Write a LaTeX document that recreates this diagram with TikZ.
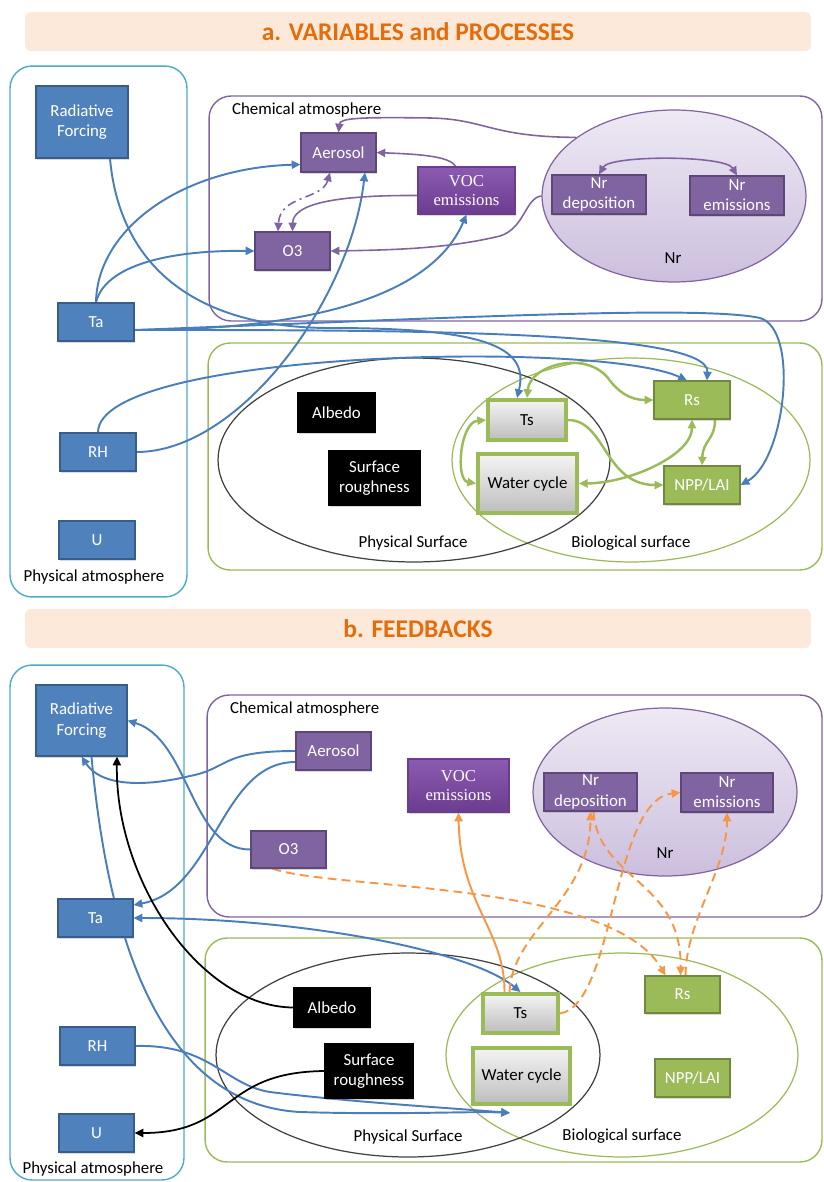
\documentclass[tikz,border=0pt]{standalone}
\usepackage{fontspec}
\setmainfont{Carlito}
\newfontfamily\vocfont{Liberation Serif}
\usetikzlibrary{arrows.meta,shapes.geometric,shadows}

% colours
\definecolor{titlefill}{HTML}{FDE9D9}
\definecolor{titletext}{HTML}{E46C0A}
\definecolor{atmoline}{HTML}{4BACC6}
\definecolor{atmofill}{HTML}{4F81BD}
\definecolor{atmoedge}{HTML}{385D8A}
\definecolor{chemline}{HTML}{8064A2}
\definecolor{chemfill}{HTML}{8064A2}
\definecolor{chemedge}{HTML}{5C4776}
\definecolor{voctop}{HTML}{8A5BB0}
\definecolor{vocbot}{HTML}{6B3C8F}
\definecolor{nrtop}{HTML}{EEE9F4}
\definecolor{nrbot}{HTML}{CCBFDE}
\definecolor{bioline}{HTML}{9BBB59}
\definecolor{biofill}{HTML}{9BBB59}
\definecolor{bioedge}{HTML}{71893F}
\definecolor{soiltop}{HTML}{F4F4F4}
\definecolor{soilbot}{HTML}{BDBDBD}
\definecolor{surfline}{HTML}{404040}
\definecolor{linkblue}{HTML}{4A7EBB}
\definecolor{linkorange}{HTML}{F79646}

\pgfdeclarelayer{back}
\pgfdeclarelayer{links}
\pgfsetlayers{back,links,main}

\newcommand{\boxfont}{\fontsize{9.6}{11.5}\selectfont}

\tikzset{
  box/.style={draw, rectangle, inner sep=1pt, align=center, text=white, font=\boxfont, line width=0.6pt,
    drop shadow={opacity=0.3, shadow xshift=0.7pt, shadow yshift=-0.9pt}},
  atmobox/.style={box, fill=atmofill, draw=atmoedge},
  chembox/.style={box, fill=chemfill, draw=chemedge},
  vocbox/.style={box, top color=voctop, bottom color=vocbot, draw=vocbot, font=\vocfont\fontsize{9.5}{10.5}\selectfont},
  surfbox/.style={box, fill=black, draw=black},
  biobox/.style={box, fill=biofill, draw=bioedge},
  soilbox/.style={box, top color=soiltop, bottom color=soilbot, draw=bioline, line width=2.2pt, text=black},
  frame/.style={draw, rectangle, rounded corners=0.44cm, line width=0.8pt, inner sep=0pt},
  title/.style={rectangle, rounded corners=0.12cm, fill=titlefill, text=titletext,
    font=\fontsize{14.5}{16}\selectfont\bfseries, minimum width=15.72cm, minimum height=0.78cm},
  zone/.style={ellipse, draw, inner sep=0pt, line width=0.7pt},
  lbl/.style={font=\boxfont, text=black, inner sep=1pt},
  bluearr/.style={draw=linkblue, line width=1.1pt},
  chemarr/.style={draw=chemline, line width=0.9pt},
  bioarr/.style={draw=bioline, line width=1.4pt},
  surfarr/.style={draw=black, line width=1pt},
  orangearr/.style={draw=linkorange, line width=1.1pt},
  orangedash/.style={orangearr, dash pattern=on 5pt off 3pt}
}

\begin{document}
\begin{tikzpicture}[x=0.02cm, y=-0.02cm, >={Triangle[length=5pt,width=4.6pt]}]
\useasboundingbox (0,0) rectangle (823,1182);

% ---------------- a. variables and processes ----------------
\begin{pgfonlayer}{back}
    \node[title] (titleA) at (418,31.5) {a. VARIABLES and PROCESSES};
    \node[frame, draw=atmoline, minimum width=3.54cm, minimum height=10.62cm] (atmoA) at (98.5,331.5) {};
    \node[frame, draw=chemline, minimum width=12.26cm, minimum height=4.5cm] (chemA) at (515.5,208.5) {};
    \node[frame, draw=bioline, minimum width=12.28cm, minimum height=4.54cm] (surfA) at (515,456.5) {};
    \node[zone, draw=chemline, top color=nrtop, bottom color=nrbot, minimum width=5.28cm, minimum height=3.44cm] (nrA) at (674,196) {};
    \node[zone, draw=bioline, minimum width=7.16cm, minimum height=4.08cm] (bioA) at (631,460) {};
    \node[zone, draw=surfline, minimum width=7.84cm, minimum height=4.08cm] (physA) at (414,460) {};
\end{pgfonlayer}

% Labels
\node[lbl, anchor=west] (chemAlbl) at (230,110) {Chemical atmosphere};
\node[lbl] (atmoAlbl) at (94,577) {Physical atmosphere};
\node[lbl] (nrAlbl) at (673,258) {Nr};
\node[lbl] (physAlbl) at (413,543) {Physical Surface};
\node[lbl] (bioAlbl) at (631,543) {Biological surface};

% Physical atmosphere
\node[atmobox, minimum width=1.84cm, minimum height=1.44cm] (rfA) at (82,122) {Radiative\\Forcing};
\node[atmobox, minimum width=1.52cm, minimum height=0.76cm] (taA) at (96,322) {Ta};
\node[atmobox, minimum width=1.52cm, minimum height=0.76cm] (rhA) at (98,452) {RH};
\node[atmobox, minimum width=1.52cm, minimum height=0.76cm] (uA) at (97,540) {U};

% Chemical atmosphere
\node[chembox, minimum width=1.5cm, minimum height=0.78cm] (aeroA) at (338.5,152.5) {Aerosol};
\node[chembox, minimum width=1.5cm, minimum height=0.76cm] (o3A) at (292.5,251) {O3};
\node[vocbox, minimum width=1.94cm, minimum height=0.94cm] (vocA) at (466.5,190.5) {VOC\\emissions};
\node[chembox, minimum width=1.88cm, minimum height=0.78cm] (ndepA) at (599,194.5) {Nr\\deposition};
\node[chembox, minimum width=1.88cm, minimum height=0.78cm] (nemA) at (737,195.5) {Nr\\emissions};

% Surface
\node[surfbox, minimum width=1.54cm, minimum height=0.78cm] (albA) at (336.5,412.5) {Albedo};
\node[surfbox, minimum width=1.82cm, minimum height=1.08cm] (roughA) at (374.5,478) {Surface\\roughness};
\node[soilbox, minimum width=1.56cm, minimum height=0.8cm] (tsA) at (527,420) {Ts};
\node[soilbox, minimum width=1.98cm, minimum height=1.18cm] (waterA) at (527.5,483.5) {Water cycle};
\node[biobox, minimum width=1.52cm, minimum height=0.76cm] (rsA) at (692,400) {Rs};
\node[biobox, minimum width=1.52cm, minimum height=0.76cm] (nppA) at (702,485) {NPP/LAI};

% Arrows
\begin{pgfonlayer}{links}
    \draw[bluearr, ->] (taA.north) .. controls (97,230) and (180,168) .. ([yshift=-0.24cm]aeroA.west);
    \draw[bluearr, ->] (taA.north) .. controls (105,265) and (170,250) .. (o3A.west);
    \draw[bluearr, ->] ([yshift=-0.16cm]taA.east) .. controls (300,330) and (430,300) .. (vocA.south);
    \draw[bluearr, ->] ([xshift=0.56cm]rfA.south) .. controls (120,270) and (200,328) .. (330,328)
        .. controls (480,328) and (530,345) .. ([xshift=-0.2cm]tsA.north);
    \draw[bluearr, ->] ([yshift=-0.16cm]taA.east) .. controls (400,330) and (710,330) .. ([xshift=0.3cm]rsA.north);
    \draw[bluearr, ->] ([yshift=-0.16cm]taA.east) .. controls (450,318) and (700,305) .. (760,318)
        .. controls (800,330) and (785,460) .. (nppA.east);
    \draw[bluearr, ->] (rhA.north) .. controls (98,350) and (600,340) .. ([xshift=-0.1cm]rsA.north);
    \draw[bluearr, ->] (rhA.east) .. controls (240,452) and (350,300) .. ([xshift=0.53cm]aeroA.south);

    \draw[chemarr, ->] (nrA.149) .. controls (490,137) and (485,119) .. (430,118)
        .. controls (360,117) and (340,118) .. (aeroA.north);
    \draw[chemarr, ->] ([xshift=-0.22cm]vocA.north) .. controls (450,155) and (410,154) .. (aeroA.east);
    \draw[chemarr, ->] ([yshift=-0.1cm]vocA.west) .. controls (330,195) and (293,205) .. (o3A.north);
    \draw[chemarr, ->] (nrA.west) .. controls (525,198) and (525,228) .. (500,236)
        .. controls (450,248) and (400,250) .. (o3A.east);
    \draw[chemarr, <->, dash pattern=on 5pt off 2.5pt on 1.2pt off 2.5pt] ([xshift=-0.17cm]aeroA.south)
        .. controls (322,200) and (280,195) .. ([xshift=-0.29cm]o3A.north);
    \draw[chemarr, <->] (ndepA.north) .. controls (610,155) and (725,155) .. (nemA.north);

    \draw[bioarr, <->] (tsA.north) .. controls (530,365) and (585,350) .. (608,378)
        .. controls (618,392) and (630,400) .. (rsA.west);
    \draw[bioarr, <->] (tsA.west) .. controls (460,422) and (455,480) .. (waterA.west);
    \draw[bioarr, ->] (tsA.east) .. controls (606,420) and (604,485) .. (nppA.west);
    \draw[bioarr, <->] (waterA.east) .. controls (630,483) and (692,455) .. (rsA.south);
    \draw[bioarr, ->] ([xshift=0.46cm]rsA.south) .. controls (715,440) and (703,440) .. (nppA.north);
\end{pgfonlayer}

% ---------------- b. feedbacks ----------------
\begin{pgfonlayer}{back}
    \node[title] (titleB) at (418,628.5) {b. FEEDBACKS};
    \node[frame, draw=atmoline, minimum width=3.48cm, minimum height=10.3cm] (atmoB) at (97,922.5) {};
    \node[frame, draw=chemline, minimum width=12.3cm, minimum height=4.44cm] (chemB) at (514.5,806) {};
    \node[frame, draw=bioline, minimum width=12.34cm, minimum height=4.48cm] (surfB) at (513.5,1050) {};
    \node[zone, draw=chemline, top color=nrtop, bottom color=nrbot, minimum width=5.28cm, minimum height=3.36cm] (nrB) at (665,792) {};
    \node[zone, draw=bioline, minimum width=7.04cm, minimum height=4.08cm] (bioB) at (622,1055) {};
    \node[zone, draw=surfline, minimum width=7.68cm, minimum height=4.08cm] (physB) at (408,1055) {};
\end{pgfonlayer}

% Labels
\node[lbl, anchor=west] (chemBlbl) at (228,709) {Chemical atmosphere};
\node[lbl] (atmoBlbl) at (93,1169) {Physical atmosphere};
\node[lbl] (nrBlbl) at (665,853) {Nr};
\node[lbl] (physBlbl) at (408,1137) {Physical Surface};
\node[lbl] (bioBlbl) at (622,1136) {Biological surface};

% Physical atmosphere
\node[atmobox, minimum width=1.82cm, minimum height=1.42cm] (rfB) at (81.5,720.5) {Radiative\\Forcing};
\node[atmobox, minimum width=1.5cm, minimum height=0.76cm] (taB) at (95.5,918) {Ta};
\node[atmobox, minimum width=1.5cm, minimum height=0.76cm] (rhB) at (97.5,1046) {RH};
\node[atmobox, minimum width=1.5cm, minimum height=0.76cm] (uB) at (96.5,1133) {U};

% Chemical atmosphere
\node[chembox, minimum width=1.5cm, minimum height=0.76cm] (aeroB) at (333.5,751) {Aerosol};
\node[chembox, minimum width=1.5cm, minimum height=0.74cm] (o3B) at (288.5,849.5) {O3};
\node[vocbox, minimum width=2.02cm, minimum height=1.06cm] (vocB) at (458.5,785.5) {VOC\\emissions};
\node[chembox, minimum width=1.86cm, minimum height=0.76cm] (ndepB) at (590.5,792) {Nr\\deposition};
\node[chembox, minimum width=1.84cm, minimum height=0.78cm] (nemB) at (727,792.5) {Nr\\emissions};

% Surface
\node[surfbox, minimum width=1.52cm, minimum height=0.78cm] (albB) at (332,1007.5) {Albedo};
\node[surfbox, minimum width=1.76cm, minimum height=1.08cm] (roughB) at (369,1071) {Surface\\roughness};
\node[soilbox, minimum width=1.5cm, minimum height=0.78cm] (tsB) at (520.5,1013.5) {Ts};
\node[soilbox, minimum width=1.94cm, minimum height=1.12cm] (waterB) at (521.5,1076) {Water cycle};
\node[biobox, minimum width=1.5cm, minimum height=0.74cm] (rsB) at (682.5,994.5) {Rs};
\node[biobox, minimum width=1.5cm, minimum height=0.76cm] (nppB) at (692.5,1078) {NPP/LAI};

% Arrows
\begin{pgfonlayer}{links}
    \draw[bluearr, ->] (aeroB.west) .. controls (220,751) and (230,768) .. (190,776)
        .. controls (140,788) and (100,785) .. (rfB.south);
    \draw[bluearr, ->] ([yshift=-0.22cm]aeroB.west) .. controls (220,762) and (215,890) .. ([yshift=0.26cm]taB.east);
    \draw[bluearr, ->] (o3B.west) .. controls (190,850) and (190,740) .. (rfB.east);
    \draw[bluearr, <->] (taB.east) .. controls (300,918) and (470,950) .. (tsB.north);
    \draw[bluearr, ->] ([xshift=0.2cm]rfB.south) .. controls (110,960) and (170,1105) .. (300,1112)
        .. controls (400,1115) and (470,1111) .. ([xshift=-0.23cm,yshift=-0.14cm]waterB.south);
    \draw[bluearr, ->] (rhB.east) .. controls (210,1044) and (225,1085) .. (270,1092)
        .. controls (350,1102) and (450,1108) .. ([xshift=-0.23cm,yshift=-0.14cm]waterB.south);

    \draw[surfarr, ->] (albB.west) .. controls (200,1007) and (115,880) .. ([xshift=0.71cm]rfB.south);
    \draw[surfarr, ->] (roughB.west) .. controls (220,1072) and (235,1133) .. (uB.east);

    \draw[orangearr, ->] ([xshift=-0.32cm]tsB.north) .. controls (505,930) and (460,905) .. (vocB.south);
    \draw[orangedash, ->] ([xshift=0.44cm]o3B.south west) .. controls (330,890) and (610,880) .. ([xshift=-0.34cm]rsB.north);
    \draw[orangedash, ->] ([xshift=-0.22cm]tsB.north) .. controls (512,930) and (590,900) .. (ndepB.south);
    \draw[orangedash, ->] ([xshift=0.06cm]ndepB.south) .. controls (598,880) and (682,880) .. ([xshift=-0.04cm]rsB.north);
    \draw[orangedash, ->] ([xshift=0.06cm]rsB.north) .. controls (686,920) and (727,870) .. (nemB.south);
    \draw[orangedash, ->] (tsB.east) .. controls (615,1005) and (612,800) .. (nemB.west);
\end{pgfonlayer}
\end{tikzpicture}
\end{document}
